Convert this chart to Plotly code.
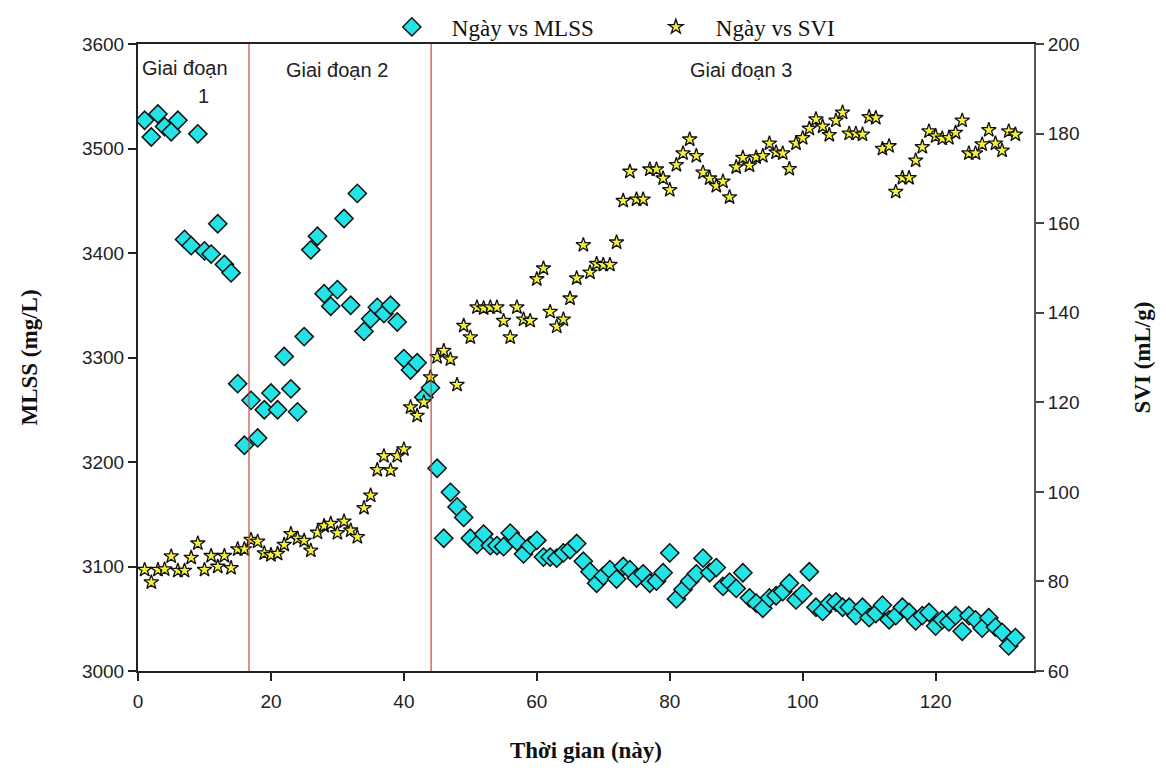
import plotly.graph_objects as go

days = list(range(1, 133))

mlss = [3527, 3511, 3533, 3521, 3516, 3527, 3413, 3407, 3514, 3402,
        3399, 3428, 3389, 3381, 3275, 3216, 3259, 3223, 3250, 3266,
        3250, 3301, 3270, 3248, 3320, 3403, 3416, 3361, 3349, 3365,
        3433, 3350, 3457, 3325, 3337, 3348, 3342, 3350, 3334, 3299,
        3288, 3295, 3262, 3271, 3194, 3127, 3171, 3157, 3147, 3127,
        3121, 3131, 3120, 3120, 3119, 3132, 3124, 3112, 3120, 3125,
        3109, 3109, 3108, 3113, 3116, 3122, 3105, 3095, 3084, 3091,
        3097, 3088, 3100, 3097, 3089, 3093, 3084, 3086, 3094, 3113,
        3069, 3078, 3086, 3093, 3108, 3094, 3099, 3081, 3085, 3079,
        3094, 3070, 3065, 3060, 3070, 3072, 3076, 3084, 3068, 3074,
        3095, 3061, 3057, 3065, 3066, 3061, 3061, 3053, 3061, 3051,
        3055, 3063, 3049, 3053, 3061, 3056, 3048, 3053, 3056, 3043,
        3049, 3047, 3053, 3038, 3053, 3049, 3041, 3051, 3042, 3037,
        3024, 3032]

svi = [82.6, 79.8, 82.6, 82.7, 85.6, 82.4, 82.4, 85.3, 88.5, 82.6,
       85.7, 83.3, 85.7, 83.0, 87.2, 87.2, 89.3, 88.9, 86.3, 85.9,
       86.2, 88.2, 90.6, 89.6, 89.1, 86.9, 90.9, 92.4, 92.9, 90.8,
       93.4, 91.4, 89.9, 96.4, 99.2, 104.9, 108.0, 104.8, 108.0, 109.5,
       118.9, 117.0, 120.0, 125.6, 130.1, 131.5, 129.6, 123.9, 137.1, 134.5,
       141.2, 141.0, 141.2, 141.2, 138.2, 134.5, 141.2, 138.5, 138.2, 147.5,
       149.9, 140.2, 136.9, 138.5, 143.2, 147.7, 155.1, 149.0, 150.9, 150.7,
       150.7, 155.7, 165.0, 171.5, 165.3, 165.3, 172.0, 172.0, 170.0, 167.4,
       173.0, 175.6, 178.7, 175.0, 171.3, 170.0, 168.3, 169.3, 165.8, 172.5,
       174.6, 172.9, 174.7, 175.0, 177.8, 175.8, 175.6, 172.1, 177.8, 179.0,
       181.1, 183.2, 181.6, 179.7, 182.9, 184.7, 180.0, 180.0, 179.8, 183.7,
       183.5, 176.6, 177.2, 167.0, 170.1, 170.1, 174.0, 177.0, 180.5, 179.4,
       178.9, 179.0, 180.2, 182.9, 175.6, 175.6, 177.6, 180.8, 177.8, 176.2,
       180.5, 179.8]

stage_bounds = [16.7, 44.1]
stage_labels = ["Giai đoạn", "1", "Giai đoạn 2", "Giai đoạn 3"]
stage_label_x = [7.1, 9.9, 29.9, 90.7]
stage_label_y = [0.962, 0.917, 0.958, 0.958]

x_ticks = [0, 20, 40, 60, 80, 100, 120]
mlss_ticks = [3000, 3100, 3200, 3300, 3400, 3500, 3600]
svi_ticks = [60, 80, 100, 120, 140, 160, 180, 200]

fig = go.Figure()

fig.add_trace(go.Scatter(
    x=days, y=mlss, mode="markers", name="Ngày vs MLSS",
    marker=dict(symbol="diamond", size=14, color="#22E4E6",
                line=dict(color="#111111", width=1.5)),
    yaxis="y"))

fig.add_trace(go.Scatter(
    x=days, y=svi, mode="markers", name="Ngày vs SVI",
    marker=dict(symbol="star", size=11, color="#F4F23A",
                line=dict(color="#111111", width=1.3)),
    yaxis="y2"))

for xb in stage_bounds:
    fig.add_shape(type="line", x0=xb, x1=xb, y0=0, y1=1, xref="x", yref="paper",
                  line=dict(color="#C24848", width=1.2))

for t, xa, ya in zip(stage_labels, stage_label_x, stage_label_y):
    fig.add_annotation(text=t, x=xa, y=ya, xref="x", yref="paper",
                       showarrow=False, xanchor="center", yanchor="middle",
                       font=dict(family="Liberation Sans, Arial", size=20, color="#222222"))

tick_font = dict(family="Liberation Sans, Arial", size=19, color="#222222")
title_font = dict(family="Liberation Serif, Times New Roman", size=23, color="#111111")

fig.update_layout(
    width=1150, height=759,
    margin=dict(l=130, r=124, t=36, b=96, autoexpand=False),
    paper_bgcolor="white", plot_bgcolor="white",
    showlegend=True,
    legend=dict(orientation="h", x=0.261, xref="paper", y=0.975, yref="container",
                xanchor="left", yanchor="middle",
                font=dict(family="Liberation Serif, Times New Roman", size=23, color="#111111"),
                itemwidth=70, entrywidth=179, entrywidthmode="pixels",
                bgcolor="rgba(0,0,0,0)"),
    xaxis=dict(range=[0, 134.8], tickvals=x_ticks, ticks="outside", ticklen=8,
               tickwidth=1.5, tickcolor="#222222", showline=True, linecolor="#222222",
               linewidth=2, mirror=True, showgrid=False, zeroline=False,
               tickfont=tick_font, automargin=False, ticklabelstandoff=4,
               title=dict(text="<b>Thời gian (này)</b>", font=title_font, standoff=31)),
    yaxis=dict(range=[3000, 3600], tickvals=mlss_ticks, ticks="outside", ticklen=8,
               tickwidth=1.5, tickcolor="#222222", showline=True, linecolor="#222222",
               linewidth=2, showgrid=False, zeroline=False, tickfont=tick_font,
               automargin=False,
               title=dict(text="<b>MLSS (mg/L)</b>", font=title_font, standoff=38)),
    yaxis2=dict(range=[60, 200], tickvals=svi_ticks, overlaying="y", side="right",
                ticks="outside", ticklen=8, tickwidth=1.5, tickcolor="#444444",
                showline=True, linecolor="#555555", linewidth=2, showgrid=False,
                zeroline=False, tickfont=tick_font, automargin=False,
                title=dict(text="<b>SVI (mL/g)</b>", font=title_font, standoff=55)),
)

fig.write_html("out.html")
